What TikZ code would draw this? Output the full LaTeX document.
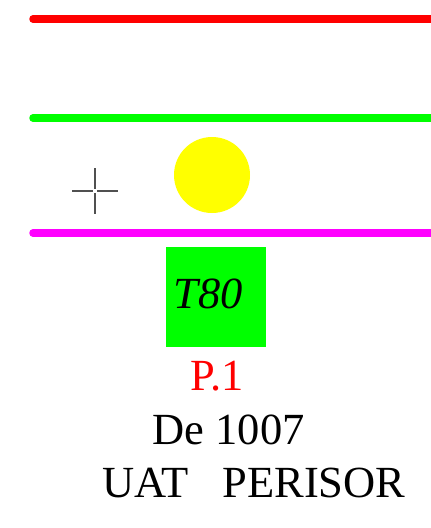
\documentclass[tikz,border=0pt]{standalone}
\usepackage{fontspec}
\setmainfont{Liberation Serif}
\usetikzlibrary{positioning}

\definecolor{linered}{RGB}{255,0,0}
\definecolor{linegreen}{RGB}{0,255,0}
\definecolor{linemagenta}{RGB}{255,0,255}
\definecolor{lampyellow}{RGB}{255,255,0}
\definecolor{crossgrey}{RGB}{80,80,80}

\tikzset{
    rail/.style={line width=7.5pt, line cap=round},
    bigtext/.style={inner sep=0pt, anchor=base, font=\fontsize{44.5}{44.5}\selectfont},
    crossline/.style={crossgrey, line width=1.2pt}
}

\begin{document}
\begin{tikzpicture}[x=1pt, y=-1pt]
        \useasboundingbox (0,0) rectangle (431,528);
        % lines
        \draw[rail, linered] (33,19) -- (445,19);
        \draw[rail, linegreen] (33,118) -- (445,118);
        \draw[rail, linemagenta] (33,233) -- (445,233);

        \node (lamp) [circle, fill=lampyellow, minimum size=76pt, inner sep=0pt] at (212,175) {};

        % cross
        \coordinate (mark) at (95,191);
        \draw[crossline] (72,191) -- (93,191) (97,191) -- (118,191);
        \draw[crossline] (95,168) -- (95,189) (95,193) -- (95,214);

        \node (tag) [fill=linegreen, minimum size=100pt, inner sep=0pt] at (216,297) {};
        \node (tagtext) [bigtext] at (208.5,308) {\itshape T80};
        \node (pole) [bigtext, text=linered] at (217.5,390) {P.1};
        \node (code) [bigtext] at (228.5,444) {De 1007};
        \node (place) [bigtext] at (254,497) {UAT\ \ \ PERISOR};
    \end{tikzpicture}
\end{document}
